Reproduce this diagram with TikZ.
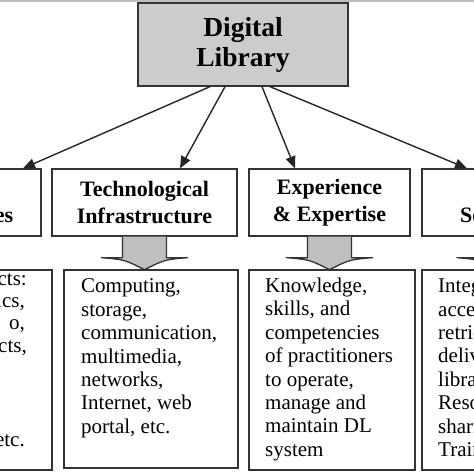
\documentclass[tikz,border=0pt]{standalone}
\usepackage{fontspec}
\setmainfont{Liberation Serif}
\usetikzlibrary{arrows.meta,calc}
\begin{document}
\begin{tikzpicture}[x=1pt,y=-1pt,
  box/.style={draw=black!80, line width=1.3pt, inner sep=0pt, rectangle},
  titlefont/.style={font=\fontsize{27.5}{30}\selectfont\bfseries, align=center},
  head/.style={font=\fontsize{22}{27}\selectfont\bfseries, align=center},
  body/.style={font=\fontsize{21}{23.4}\selectfont, align=left, inner sep=0pt, anchor=north west},
  frag/.style={font=\fontsize{21}{23.4}\selectfont, inner sep=0pt},
  arr/.style={line width=1.4pt, draw=black!85, -{Triangle[length=12pt,width=10pt]}},
  blockarrow/.style={draw=black!80, line width=1.3pt, fill=black!25, line join=round}]

\useasboundingbox (0,0) rectangle (474,474);
\fill[black!25] (0,0) rectangle (474,1.6);

% top box
\node[box, fill=black!20, minimum width=210pt, minimum height=83pt, titlefont] (dl) at (243,44.5) {Digital\\Library};

% heading boxes
\node[box, minimum width=182pt, minimum height=67pt] (res) at (-50,202.5) {};
\node[box, minimum width=185pt, minimum height=67pt, head] (tech) at (144.5,202.5) {Technological\\Infrastructure};
\node[box, minimum width=161pt, minimum height=67pt, head] (exp) at (329.5,202.5) {Experience\\\& Expertise};
\node[box, minimum width=156pt, minimum height=67pt] (serv) at (500,202.5) {};
\node[head, anchor=base east, inner sep=0pt] (resH) at (13.5,222) {Resources};
\node[head, anchor=base west, inner sep=0pt] (servH) at (460,222) {Services};

% text boxes
\node[box, minimum width=184pt, minimum height=200pt] (resT) at (-40,370) {};
\node[box, minimum width=174pt, minimum height=198pt] (techT) at (151,369) {};
\node[box, minimum width=166pt, minimum height=200pt] (expT) at (332,370) {};
\node[box, minimum width=156pt, minimum height=200pt] (servT) at (500,370) {};

% connectors
\draw[arr] ([xshift=-33pt]dl.south) -- ([xshift=73pt]res.north);
\draw[arr] ([xshift=-18pt]dl.south) -- ([xshift=35.5pt]tech.north);
\draw[arr] ([xshift=19pt]dl.south) -- ([xshift=-34.5pt]exp.north);
\draw[arr] ([xshift=27pt]dl.south) -- ([xshift=-33pt]serv.north);

% block arrows
\foreach \n in {tech,exp,serv}{
  \draw[blockarrow] ($(\n.south)+(-22,0)$) -- ($(\n.south)+(-22,21)$) -- ($(\n.south)+(-43,21)$)
    .. controls ($(\n.south)+(-20,23)$) .. ($(\n.south)+(0,33)$)
    .. controls ($(\n.south)+(20,23)$) .. ($(\n.south)+(43,21)$)
    -- ($(\n.south)+(22,21)$) -- ($(\n.south)+(22,0)$);
}

% texts
\node[body] (techTx) at (81,278.8) {Computing,\\storage,\\communication,\\multimedia,\\networks,\\Internet, web\\portal, etc.};
\node[body] (expTx) at (265,277.7) {Knowledge,\\skills, and\\competencies\\of practitioners\\to operate,\\manage and\\maintain DL\\system};
\node[body] (servTx) at (438,278) {Integrated\\access,\\retrieval,\\delivery,\\library\\Resource\\sharing,\\Training};

\node[frag, anchor=base east] (r1) at (27,285) {objects:};
\node[frag, anchor=base east] (r2) at (25,307) {graphics,};
\node[frag, anchor=base east] (r3) at (25,329) {o,};
\node[frag, anchor=base east] (r4) at (27,352) {objects,};
\node[frag, anchor=base east] (r8) at (25,446) {etc.};
\end{tikzpicture}
\end{document}
